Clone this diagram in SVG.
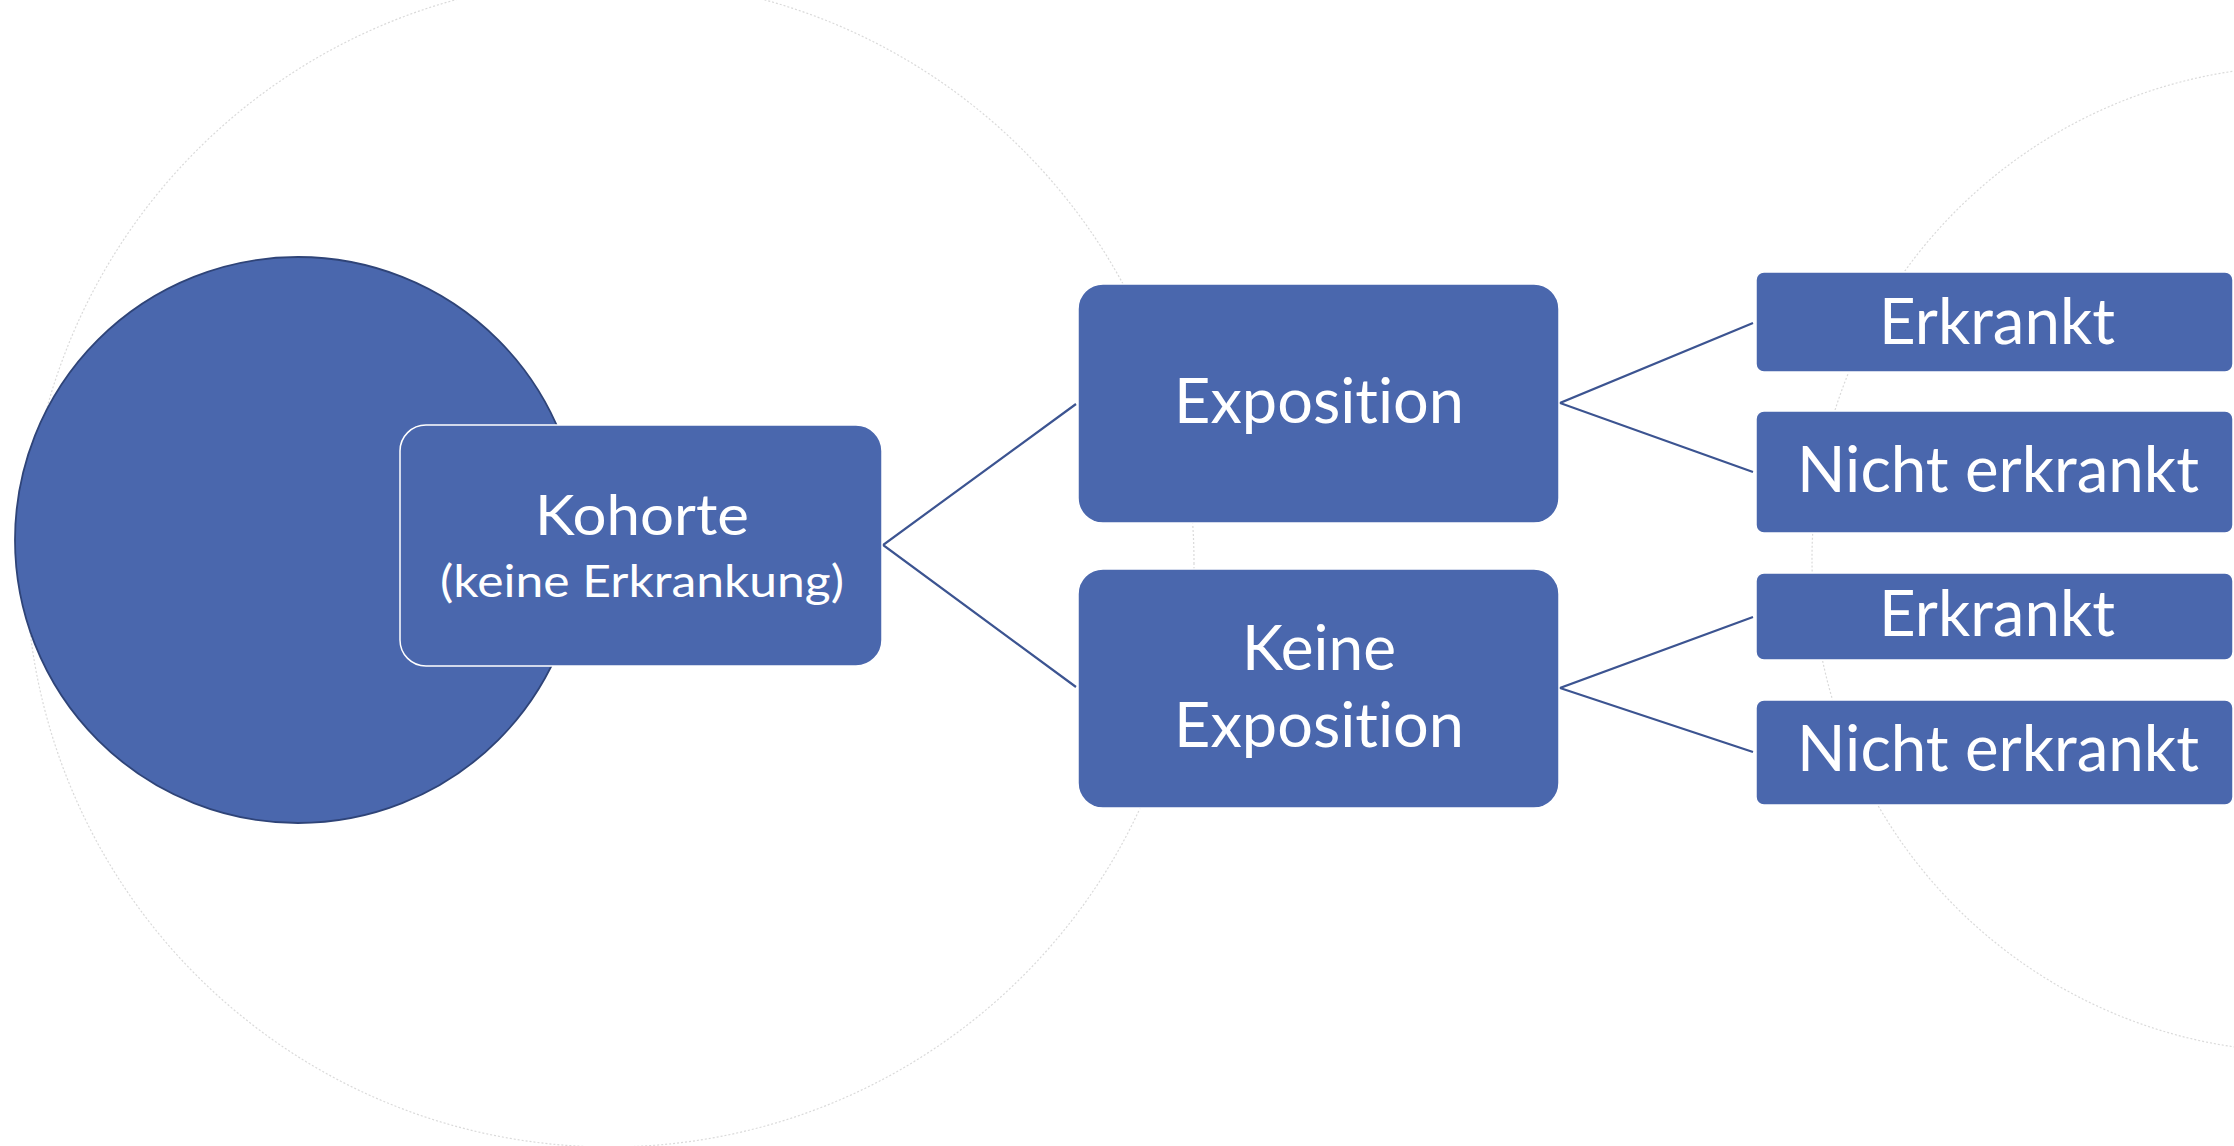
<svg xmlns="http://www.w3.org/2000/svg" width="2234" height="1146" viewBox="0 0 2234 1146">
  <style>
    .guide { fill: none; stroke: #dadada; stroke-width: 1.2; stroke-dasharray: 2 2; }
    .box { fill: #4a67ad; stroke: #ffffff; stroke-width: 1.5; }
    .label { fill: #ffffff; font-family: Lato, "Open Sans", "Liberation Sans", sans-serif; text-anchor: middle; font-variant-ligatures: none; font-feature-settings: "liga" 0, "clig" 0; }
    .link { fill: none; stroke: #3c5491; stroke-width: 2.2; stroke-linejoin: miter; }
  </style>

  <rect width="2234" height="1146" fill="#ffffff"/>

  <!-- faint background rings -->
  <g id="background">
    <circle class="guide" cx="610" cy="563" r="584"/>
    <circle class="guide" cx="2305" cy="559" r="493"/>
  </g>

  <!-- population circle -->
  <g id="population">
    <circle cx="298" cy="540" r="283" fill="#4a67ad" stroke="#2f4478" stroke-width="1.8"/>
  </g>

  <!-- connectors -->
  <g id="connectors">
    <polyline class="link" points="1076,404 883,545 1076,687"/>
    <polyline class="link" points="1753,323 1560,403 1753,472"/>
    <polyline class="link" points="1753,617 1560,688 1753,752"/>
  </g>

  <g id="kohorte">
    <rect class="box" x="400" y="425" width="482" height="241" rx="26" stroke-width="2.5"/>
    <text class="label" x="642" y="535" font-size="57" textLength="214" lengthAdjust="spacingAndGlyphs">Kohorte</text>
    <text class="label" x="642" y="597" font-size="44" textLength="404" lengthAdjust="spacingAndGlyphs">(keine Erkrankung)</text>
  </g>

  <g id="exposition">
    <rect class="box" x="1078" y="284" width="481" height="239" rx="25"/>
    <text class="label" x="1319" y="423" font-size="61" textLength="290" lengthAdjust="spacingAndGlyphs">Exposition</text>
  </g>

  <g id="keine-exposition">
    <rect class="box" x="1078" y="569" width="481" height="239" rx="25"/>
    <text class="label" x="1319" y="670" font-size="61" textLength="154" lengthAdjust="spacingAndGlyphs">Keine</text>
    <text class="label" x="1319" y="747" font-size="61" textLength="290" lengthAdjust="spacingAndGlyphs">Exposition</text>
  </g>

  <g id="exp-erkrankt">
    <rect class="box" x="1756" y="272" width="477" height="100" rx="8"/>
    <text class="label" x="1997" y="344" font-size="63" textLength="236" lengthAdjust="spacingAndGlyphs">Erkrankt</text>
  </g>

  <g id="exp-nicht-erkrankt">
    <rect class="box" x="1756" y="411" width="477" height="122" rx="8"/>
    <text class="label" x="1998" y="492" font-size="63" textLength="402" lengthAdjust="spacingAndGlyphs">Nicht erkrankt</text>
  </g>

  <g id="keine-erkrankt">
    <rect class="box" x="1756" y="573" width="477" height="87" rx="8"/>
    <text class="label" x="1997" y="636" font-size="63" textLength="236" lengthAdjust="spacingAndGlyphs">Erkrankt</text>
  </g>

  <g id="keine-nicht-erkrankt">
    <rect class="box" x="1756" y="700" width="477" height="105" rx="8"/>
    <text class="label" x="1998" y="771" font-size="63" textLength="402" lengthAdjust="spacingAndGlyphs">Nicht erkrankt</text>
  </g>
</svg>
